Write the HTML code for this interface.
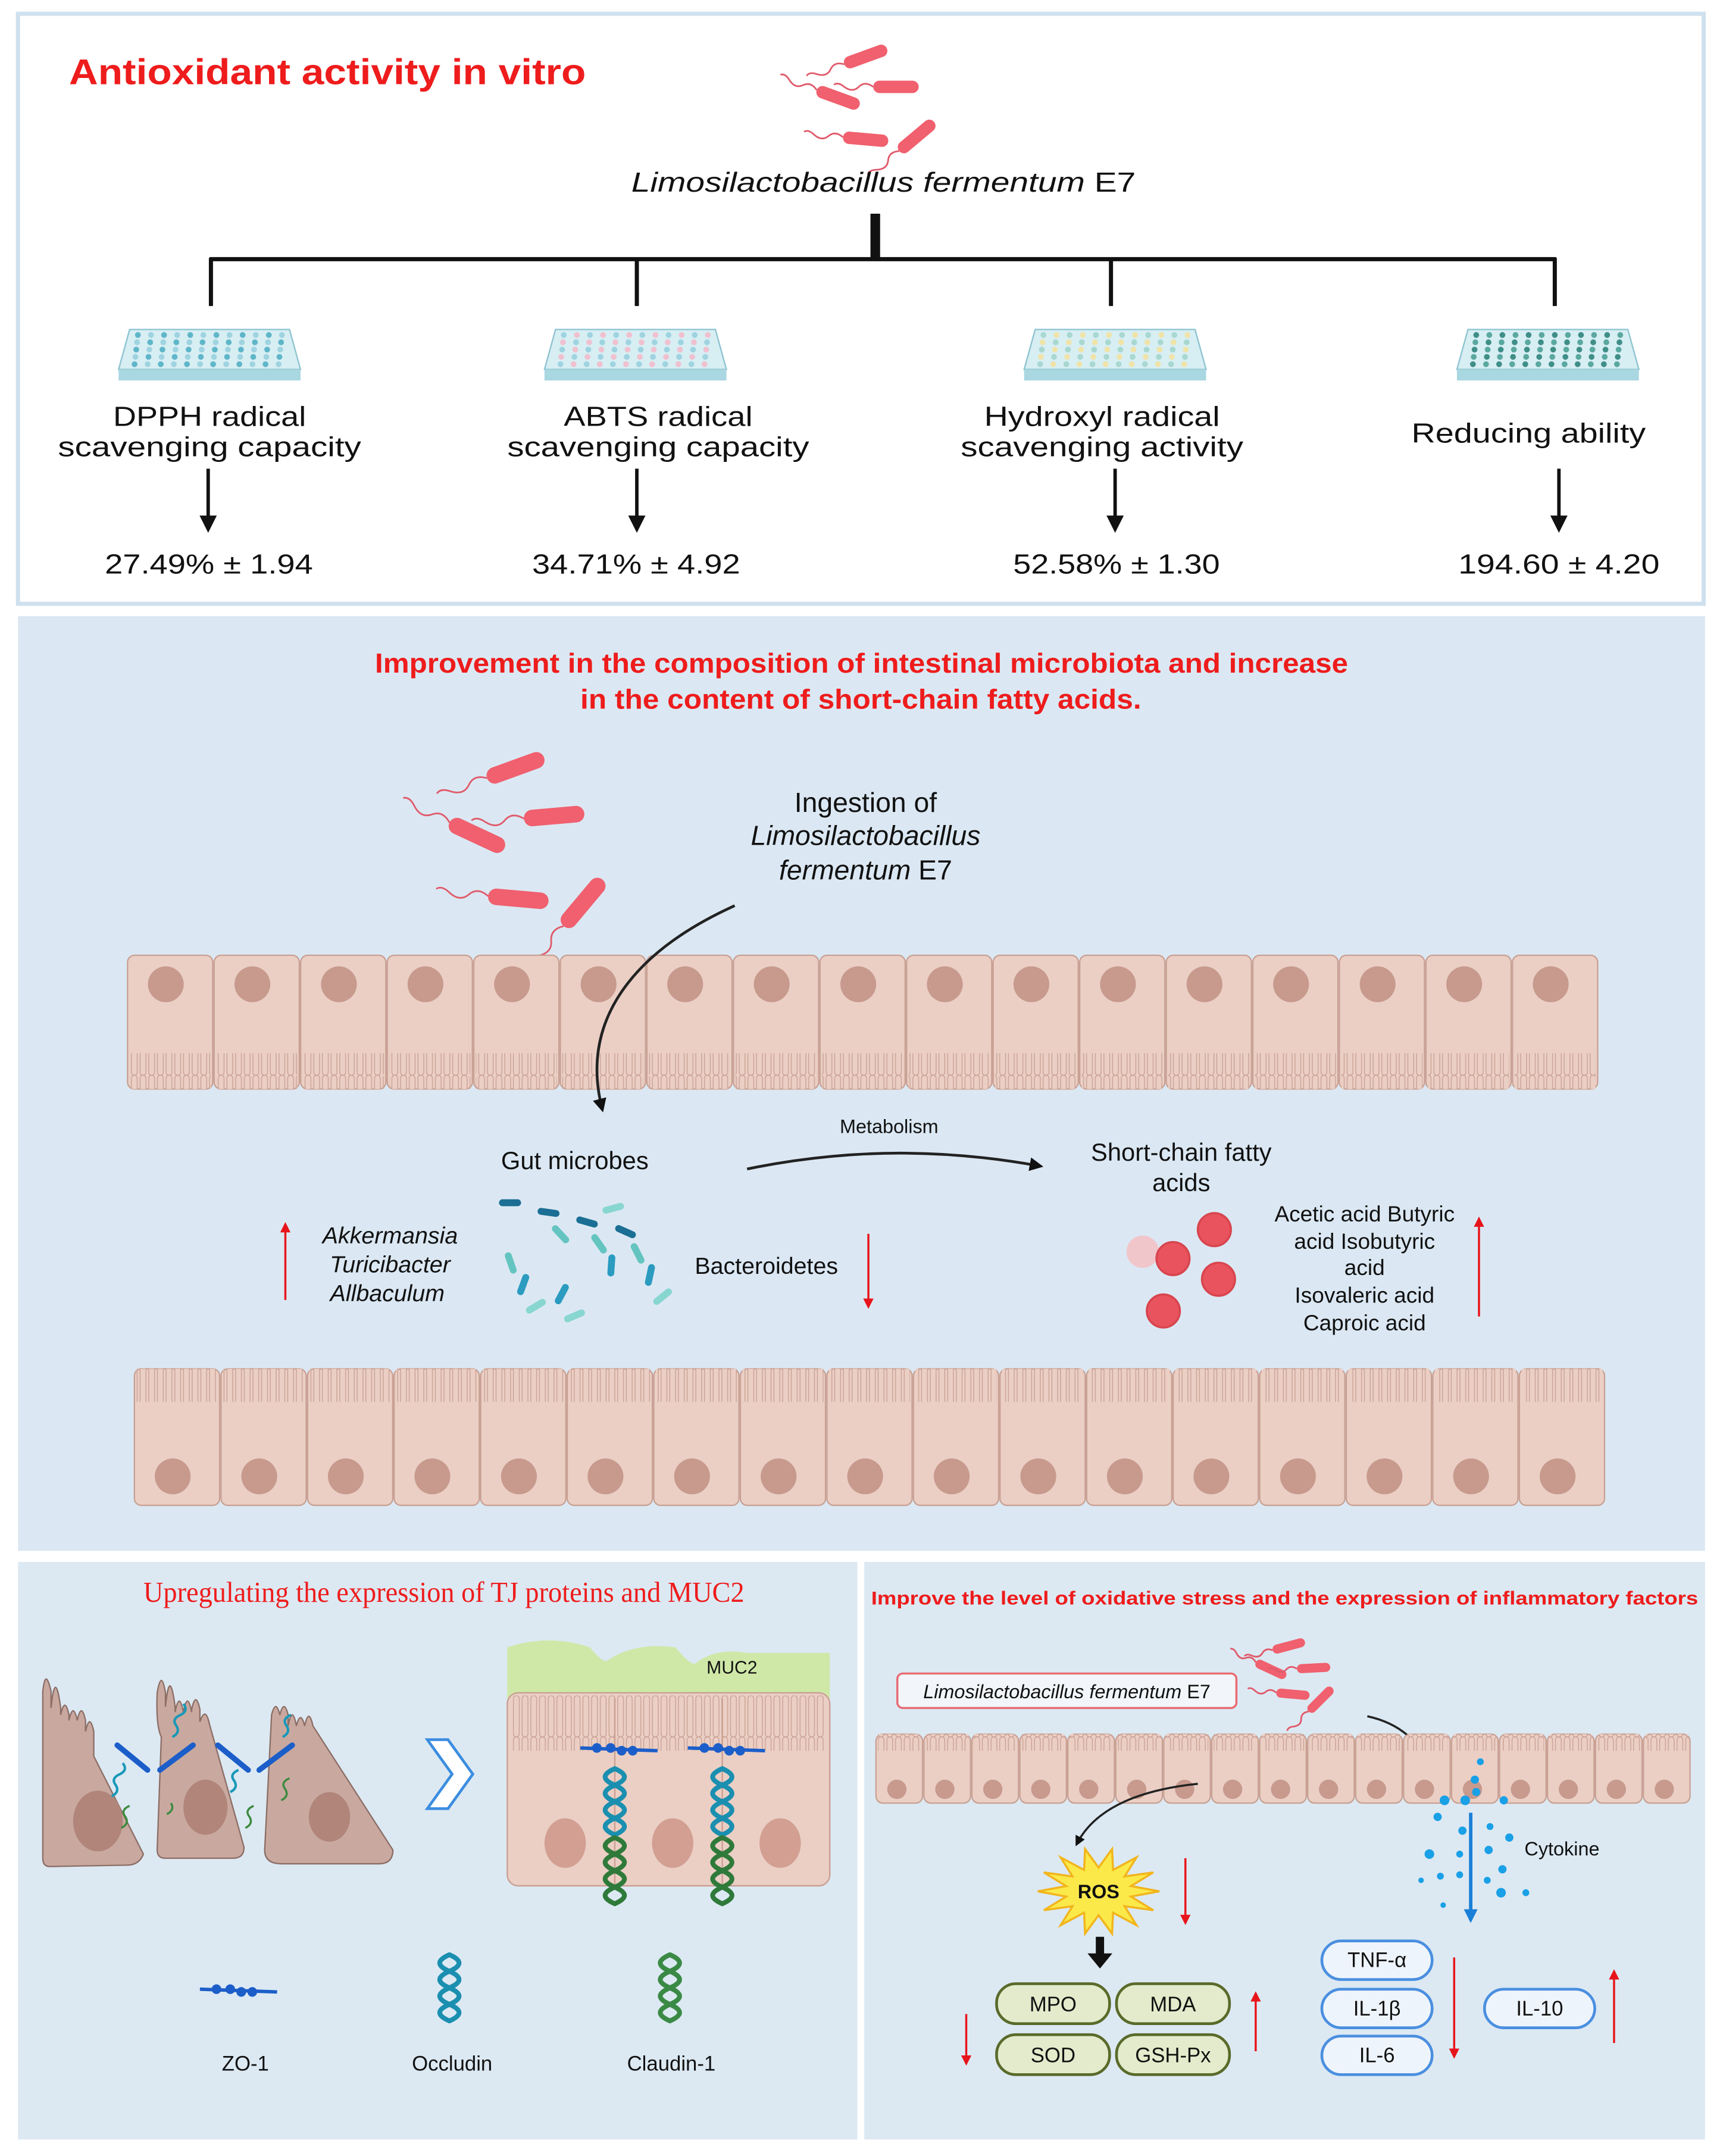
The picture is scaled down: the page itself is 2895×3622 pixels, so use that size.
<!DOCTYPE html>
<html><head><meta charset="utf-8"><style>
html,body{margin:0;padding:0;background:#fff;}
svg{display:block;}
text{font-family:"Liberation Sans",sans-serif;}
</style></head><body>
<svg id="s" xmlns="http://www.w3.org/2000/svg" width="2895" height="3622" viewBox="0 0 1250 1564">
<defs>
<marker id="ab" viewBox="0 0 10 10" refX="8" refY="5" markerWidth="5" markerHeight="5" orient="auto"><path d="M0,0L10,5L0,10z" fill="#111"/></marker>
<marker id="ar" viewBox="0 0 10 10" refX="8" refY="5" markerWidth="5" markerHeight="5" orient="auto"><path d="M0,0L10,5L0,10z" fill="#e8141b"/></marker>
<marker id="abl" viewBox="0 0 10 10" refX="8" refY="5" markerWidth="4" markerHeight="4" orient="auto"><path d="M0,0L10,5L0,10z" fill="#1a7fd6"/></marker>
<pattern id="mv" width="6.3" height="30" patternUnits="userSpaceOnUse"><rect x="0.8" y="0" width="4.2" height="30" rx="2.1" fill="#eccfc4" stroke="#c9a194" stroke-width="0.6"/></pattern>
</defs>
<rect width="1250" height="1564" fill="#fff"/>
<!-- Panel 1 -->
<rect x="13" y="10" width="1223" height="428" fill="#fff" stroke="#cfe0ee" stroke-width="3"/>
<text x="50" y="61" font-size="26" font-weight="bold" fill="#ee1c1c" textLength="375" lengthAdjust="spacingAndGlyphs">Antioxidant activity in vitro</text>
<g id="bac1"></g>
<text x="458" y="139" font-size="20" fill="#111" textLength="366" lengthAdjust="spacingAndGlyphs"><tspan font-style="italic">Limosilactobacillus fermentum</tspan> E7</text>
<g stroke="#111" fill="none">
<line x1="635" y1="155" x2="635" y2="188" stroke-width="7"/>
<line x1="152" y1="188" x2="1129" y2="188" stroke-width="3"/>
<line x1="153" y1="187" x2="153" y2="222" stroke-width="3"/>
<line x1="462" y1="187" x2="462" y2="222" stroke-width="3"/>
<line x1="806" y1="187" x2="806" y2="222" stroke-width="3"/>
<line x1="1128" y1="187" x2="1128" y2="222" stroke-width="3"/>
</g>
<g id="plates"></g>
<g font-size="20" fill="#111" lengthAdjust="spacingAndGlyphs">
<text x="82" y="309" textLength="140" lengthAdjust="spacingAndGlyphs">DPPH radical</text><text x="42" y="331" textLength="220" lengthAdjust="spacingAndGlyphs">scavenging capacity</text>
<text x="409" y="309" textLength="137" lengthAdjust="spacingAndGlyphs">ABTS radical</text><text x="368" y="331" textLength="219" lengthAdjust="spacingAndGlyphs">scavenging capacity</text>
<text x="714" y="309" textLength="171" lengthAdjust="spacingAndGlyphs">Hydroxyl radical</text><text x="697" y="331" textLength="205" lengthAdjust="spacingAndGlyphs">scavenging activity</text>
<text x="1024" y="321" textLength="170" lengthAdjust="spacingAndGlyphs">Reducing ability</text>
<text x="76" y="416" textLength="151" lengthAdjust="spacingAndGlyphs">27.49% ± 1.94</text>
<text x="386" y="416" textLength="151" lengthAdjust="spacingAndGlyphs">34.71% ± 4.92</text>
<text x="735" y="416" textLength="150" lengthAdjust="spacingAndGlyphs">52.58% ± 1.30</text>
<text x="1058" y="416" textLength="146" lengthAdjust="spacingAndGlyphs">194.60 ± 4.20</text>
</g>
<g stroke="#111" stroke-width="2.5" marker-end="url(#ab)">
<line x1="151" y1="340" x2="151" y2="384"/><line x1="462" y1="340" x2="462" y2="384"/>
<line x1="809" y1="340" x2="809" y2="384"/><line x1="1131" y1="340" x2="1131" y2="384"/>
</g>
<!-- Panel 2 -->
<rect x="13" y="447" width="1224" height="678" fill="#dbe8f3"/>
<g font-size="20" font-weight="bold" fill="#ee1c1c">
<text x="272" y="488" textLength="706" lengthAdjust="spacingAndGlyphs">Improvement in the composition of intestinal microbiota and increase</text>
<text x="421" y="514" textLength="407" lengthAdjust="spacingAndGlyphs">in the content of short-chain fatty acids.</text></g>
<g id="bac2"></g>
<g font-size="20" text-anchor="middle" fill="#111">
<text x="628" y="589">Ingestion of</text>
<text x="628" y="613" font-style="italic">Limosilactobacillus</text>
<text x="628" y="638"><tspan font-style="italic">fermentum</tspan> E7</text></g>
<g id="row1"></g><g id="row2"></g>
<path d="M533,657 C460,690 420,740 437,805" stroke="#222" stroke-width="2" fill="none" marker-end="url(#ab)"/>
<text x="417" y="848" font-size="18" text-anchor="middle" fill="#111">Gut microbes</text>
<text x="645" y="822" font-size="14" text-anchor="middle" fill="#111">Metabolism</text>
<path d="M542,848 C620,832 690,834 755,846" stroke="#222" stroke-width="2" fill="none" marker-end="url(#ab)"/>
<text x="857" y="842" font-size="18" text-anchor="middle" fill="#111">Short-chain fatty</text>
<text x="857" y="864" font-size="18" text-anchor="middle" fill="#111">acids</text>
<g font-size="17" font-style="italic" text-anchor="middle" fill="#111">
<text x="283" y="902">Akkermansia</text><text x="283" y="923">Turicibacter</text><text x="281" y="944">Allbaculum</text></g>
<line x1="207" y1="943" x2="207" y2="888" stroke="#e8141b" stroke-width="1.5" marker-end="url(#ar)"/>
<text x="556" y="924" font-size="17" text-anchor="middle" fill="#111">Bacteroidetes</text>
<line x1="630" y1="895" x2="630" y2="948" stroke="#e8141b" stroke-width="1.5" marker-end="url(#ar)"/>
<g id="mic"></g>
<g stroke="#d8454e" stroke-width="1.5">
<circle cx="829" cy="908" r="11" fill="#f1c6cb" stroke="#f1c6cb"/>
<circle cx="851" cy="913" r="12" fill="#e8535d"/>
<circle cx="881" cy="892" r="12" fill="#e8535d"/>
<circle cx="884" cy="928" r="12" fill="#e8535d"/>
<circle cx="844" cy="951" r="12" fill="#e8535d"/></g>
<g font-size="16" text-anchor="middle" fill="#111">
<text x="990" y="886">Acetic acid  Butyric</text><text x="990" y="906">acid  Isobutyric</text>
<text x="990" y="925">acid</text><text x="990" y="945">Isovaleric acid</text><text x="990" y="965">Caproic acid</text></g>
<line x1="1073" y1="955" x2="1073" y2="884" stroke="#e8141b" stroke-width="1.5" marker-end="url(#ar)"/>
<!-- Panel 3 left -->
<rect x="13" y="1133" width="609" height="419" fill="#dce9f3"/>
<text x="104" y="1162" font-size="21" fill="#ee1c1c" textLength="436" lengthAdjust="spacingAndGlyphs" style="font-family:'Liberation Serif',serif">Upregulating the expression of TJ proteins and MUC2</text>
<g fill="#c9a99f" stroke="#8c6e66" stroke-width="1">
<path d="M31,1227 q2,-18 6,0 l0,12 q3,-30 7,0 l0,5 q3,-14 6,0 l0,4 q3,-14 6,0 q3,-14 6,0 l0,8 q3,-14 6,0 l0,18 L104,1345 q-3,8 -12,8 L36,1354 q-5,0 -5,-6 z"/>
<path d="M114,1228 q3,-18 6,0 l0,10 q3,-30 7,0 l0,4 q3,-16 6,0 q3,-16 6,0 l0,-2 q3,-14 6,0 l0,9 q4,-12 7,2 L177,1340 q0,8 -8,8 L120,1348 q-6,0 -6,-6 L117,1260 q-4,-8 -3,-32z"/>
<path d="M197,1244 q3,-12 6,0 q3,-12 6,0 l0,8 q3,-16 6,0 q3,-12 6,0 q3,-14 6,0 L285,1342 q0,10 -10,10 L204,1352 q-12,0 -12,-10 L197,1244z"/>
</g>
<g fill="#b1857a"><ellipse cx="71" cy="1321" rx="18" ry="22"/><ellipse cx="149" cy="1311" rx="16" ry="20"/><ellipse cx="239" cy="1318" rx="15" ry="18"/></g>
<g stroke="#1c5ec9" stroke-width="4" stroke-linecap="round">
<line x1="85" y1="1266" x2="107" y2="1284"/><line x1="116" y1="1284" x2="140" y2="1266"/>
<line x1="158" y1="1266" x2="180" y2="1284"/><line x1="188" y1="1284" x2="212" y2="1266"/></g>
<g stroke="#1998b8" stroke-width="1.8" fill="none">
<path d="M81,1303 q6,-3 3,-8 q-4,-5 3,-8 q6,-3 2,-8"/><path d="M125,1260 q6,-3 3,-8 q-4,-5 3,-8 q6,-3 2,-8"/>
<path d="M167,1300 q6,-3 3,-8 q-4,-5 3,-8"/><path d="M205,1260 q6,-3 3,-8 q-4,-5 3,-8"/></g>
<g stroke="#3d8a3f" stroke-width="1.5" fill="none">
<path d="M88,1326 q6,-3 3,-8 q-4,-5 3,-8"/><path d="M121,1316 q6,-3 3,-8"/><path d="M178,1326 q6,-3 3,-8 q-4,-5 3,-8"/><path d="M204,1306 q6,-3 3,-8 q-4,-5 3,-8"/></g>
<path d="M310,1262 L325,1262 L343,1287 L325,1312 L310,1312 L328,1287z" fill="#fff" stroke="#3b8de0" stroke-width="2"/>
<path d="M368,1195 q30,-10 60,0 q8,10 12,10 q20,-14 50,-10 q10,12 14,12 q15,-12 38,-8 q20,0 60,0 L602,1232 L368,1232z" fill="#cfe8a8"/>
<rect x="368" y="1228" width="234" height="140" rx="8" fill="#ebcfc5" stroke="#c99e91"/>
<rect x="372" y="1230" width="226" height="40" fill="url(#mv)"/>
<line x1="446" y1="1232" x2="446" y2="1368" stroke="#c99e91"/><line x1="524" y1="1232" x2="524" y2="1368" stroke="#c99e91"/>
<text x="531" y="1214" font-size="13" text-anchor="middle" fill="#111">MUC2</text>
<g fill="#d29f92"><ellipse cx="410" cy="1337" rx="15" ry="18"/><ellipse cx="488" cy="1337" rx="15" ry="18"/><ellipse cx="566" cy="1337" rx="15" ry="18"/></g>
<g id="tj"></g>
<g font-size="15" text-anchor="middle" fill="#111"><text x="178" y="1502">ZO-1</text><text x="328" y="1502">Occludin</text><text x="487" y="1502">Claudin-1</text></g>
<!-- Panel 3 right -->
<rect x="627" y="1133" width="610" height="419" fill="#dce9f3"/>
<text x="632" y="1164" font-size="13.5" font-weight="bold" fill="#ee1c1c" textLength="600" lengthAdjust="spacingAndGlyphs">Improve the level of oxidative stress and the expression of inflammatory factors</text>
<rect x="651" y="1214" width="246" height="25" rx="4" fill="#f2f6fa" stroke="#e86b73" stroke-width="1.5"/>
<text x="774" y="1232" font-size="14" text-anchor="middle" fill="#111"><tspan font-style="italic">Limosilactobacillus fermentum</tspan> E7</text>
<g id="bac3"></g>
<path d="M992,1245 C1015,1250 1030,1262 1043,1290" stroke="#222" stroke-width="1.5" fill="none" marker-end="url(#ab)"/>
<g id="row3"></g>
<path d="M869,1294 C830,1298 795,1310 781,1338" stroke="#222" stroke-width="1.5" fill="none" marker-end="url(#ab)"/>
<g id="cyt"></g>
<line x1="1067" y1="1315" x2="1067" y2="1393" stroke="#1a7fd6" stroke-width="2.5" marker-end="url(#abl)"/>
<text x="1106" y="1346" font-size="14" fill="#111">Cytokine</text>
<polygon id="ros" fill="#fbe94a" stroke="#f2b51c" stroke-width="1.5"/>
<text x="797" y="1377" font-size="14" font-weight="bold" text-anchor="middle" fill="#111">ROS</text>
<line x1="860" y1="1348" x2="860" y2="1395" stroke="#e8141b" stroke-width="1.5" marker-end="url(#ar)"/>
<path d="M795,1405 h6 v12 h6 l-9,11 l-9,-11 h6z" fill="#111"/>
<g stroke="#5a6a2a" stroke-width="2" fill="#e3ebcc">
<rect x="723" y="1439" width="82" height="29" rx="14"/><rect x="810" y="1439" width="82" height="29" rx="14"/>
<rect x="723" y="1476" width="82" height="29" rx="14"/><rect x="810" y="1476" width="82" height="29" rx="14"/></g>
<g font-size="15" text-anchor="middle" fill="#111">
<text x="764" y="1459">MPO</text><text x="851" y="1459">MDA</text><text x="764" y="1496">SOD</text><text x="851" y="1496">GSH-Px</text></g>
<line x1="701" y1="1461" x2="701" y2="1497" stroke="#e8141b" stroke-width="1.5" marker-end="url(#ar)"/>
<line x1="911" y1="1488" x2="911" y2="1446" stroke="#e8141b" stroke-width="1.5" marker-end="url(#ar)"/>
<g stroke="#4a8fe0" stroke-width="2" fill="#eef4fb">
<rect x="959" y="1408" width="80" height="28" rx="14"/><rect x="959" y="1443" width="80" height="28" rx="14"/>
<rect x="959" y="1477" width="80" height="28" rx="14"/><rect x="1077" y="1443" width="80" height="28" rx="14"/></g>
<g font-size="15" text-anchor="middle" fill="#111">
<text x="999" y="1427">TNF-α</text><text x="999" y="1462">IL-1β</text><text x="999" y="1496">IL-6</text><text x="1117" y="1462">IL-10</text></g>
<line x1="1055" y1="1420" x2="1055" y2="1492" stroke="#e8141b" stroke-width="1.5" marker-end="url(#ar)"/>
<line x1="1171" y1="1482" x2="1171" y2="1430" stroke="#e8141b" stroke-width="1.5" marker-end="url(#ar)"/>
</svg>
<script>
var NS="http://www.w3.org/2000/svg";
function el(p,t,a){var e=document.createElementNS(NS,t);for(var k in a)e.setAttribute(k,a[k]);p.appendChild(e);return e;}
function $(i){return document.getElementById(i);}
function bac(g,x,y,ang,s){var gg=el(g,'g',{transform:'translate('+x+','+y+') rotate('+ang+') scale('+s+')'});
 el(gg,'path',{d:'M-22,0 q-8,-6 -14,0 q-6,6 -14,0 q-6,-5 -10,-2',fill:'none',stroke:'#e05a6a','stroke-width':1.2/s});
 el(gg,'rect',{x:-22,y:-6,width:44,height:12,rx:6,fill:'#f0606e'});}
[[628,41,-20],[608,71,20],[650,63,0],[628,101,5],[665,99,-40]].forEach(function(b){bac($('bac1'),b[0],b[1],b[2],0.75);});
[[374,557,-20],[346,606,25],[402,592,-5],[376,652,5],[423,655,-50]].forEach(function(b){bac($('bac2'),b[0],b[1],b[2],1);});
[[935,1194,-15],[922,1211,25],[953,1210,-3],[938,1229,5],[958,1233,-45]].forEach(function(b){bac($('bac3'),b[0],b[1],b[2],0.55);});
[[152,'#9fd3e0','#5fb6c9'],[461,'#f0c0cf','#9fd3e0'],[809,'#f0e3a8','#a8d8d0'],[1123,'#5aa8a0','#3f8f88']].forEach(function(p){
 var g=el($('plates'),'g',{});var x=p[0]-66;
 el(g,'path',{d:'M'+(x+8)+',239 L'+(x+124)+',239 L'+(x+132)+',268 L'+x+',268 z',fill:'#d7eef3',stroke:'#8cc3d0'});
 el(g,'rect',{x:x,y:268,width:132,height:8,fill:'#a9d7e2'});
 for(var r=0;r<5;r++)for(var c=0;c<12;c++)el(g,'circle',{cx:x+14+c*9.5+r*-0.6,cy:243+r*5.3,r:2.1,fill:(r+c)%2?p[1]:p[2]});});
function row(g,x0,y0,n,w,h,mvTop,nucY,nr,mvh){
 for(var i=0;i<n;i++){var x=x0+i*w;
  el(g,'rect',{x:x+0.5,y:y0,width:w-1,height:h,rx:5,fill:'#ebcfc5',stroke:'#c9a194','stroke-width':1});
  var my=mvTop?y0:y0+h-mvh;
  el(g,'rect',{x:x+2,y:my,width:w-4,height:mvh,fill:'url(#mv)'});
  el(g,'circle',{cx:x+w*0.45,cy:nucY,r:nr,fill:'#c79a8d'});}}
row($('row1'),92,693,17,62.8,97,false,714,13,26);
row($('row2'),97,993,17,62.8,99,true,1071,13,24);
row($('row3'),635,1258,17,34.8,50,true,1298,7,12);
var cols=['#1b6e94','#64c4c0','#2b9bc0','#88d6d0'];
for(var i=0;i<16;i++){var x=362+(i*37%120),y=870+(i*23%85);
 el($('mic'),'rect',{x:x,y:y,width:16,height:5,rx:2.5,fill:cols[i%4],transform:'rotate('+(i*47%180)+' '+(x+8)+' '+(y+2)+')'});}
function zo(g,x,y){el(g,'line',{x1:x,y1:y,x2:x+56,y2:y+2,stroke:'#1c5ec9','stroke-width':2.5});
 [12,22,30,38].forEach(function(d){el(g,'circle',{cx:x+d,cy:y+(d>25?2:0),r:3.5,fill:'#1c5ec9'});});}
function wig(g,x,y,col,n){var d='M'+x+','+y;for(var i=0;i<n;i++)d+=' q14,6 0,12 q-14,6 0,12';
 el(g,'path',{d:d,fill:'none',stroke:col,'stroke-width':3.5,'stroke-linecap':'round'});}
var tj=$('tj');
zo(tj,421,1268);zo(tj,499,1268);
[446,524].forEach(function(x){var g=el(tj,'g',{});wig(g,x,1283,'#1b8fb0',2);
 var m=el(tj,'g',{transform:'translate('+(2*x)+',0) scale(-1,1)'});wig(m,x,1283,'#1b8fb0',2);
 wig(g,x,1333,'#2f7a3a',1.5);var m2=el(tj,'g',{transform:'translate('+(2*x)+',0) scale(-1,1)'});wig(m2,x,1333,'#2f7a3a',1.5);});
zo(tj,145,1443);
var g1=el(tj,'g',{});wig(g1,326,1418,'#1b8fb0',2);var g2=el(tj,'g',{transform:'translate(652,0) scale(-1,1)'});wig(g2,326,1418,'#1b8fb0',2);
var g3=el(tj,'g',{});wig(g3,486,1418,'#3a8a45',2);var g4=el(tj,'g',{transform:'translate(972,0) scale(-1,1)'});wig(g4,486,1418,'#3a8a45',2);
[[1061,1328,3],[1074,1278,2.5],[1070,1291,3],[1071,1300,3],[1048,1306,3.5],[1063,1306,3.5],[1091,1306,3],[1043,1318,3],[1081,1325,2.5],[1095,1333,3],[1037,1345,3.5],[1059,1345,2.5],[1080,1342,3],[1090,1356,3],[1045,1361,2.5],[1059,1360,2.5],[1079,1364,2.5],[1031,1364,2],[1089,1373,3.5],[1107,1373,2.5],[1047,1382,2]].forEach(function(d){el($('cyt'),'circle',{cx:d[0],cy:d[1],r:d[2],fill:'#1aa0e6'});});
var pts=[];for(var i=0;i<28;i++){var a=i*Math.PI/14,r=i%2?23:42;pts.push((797+r*Math.cos(a)*1.05).toFixed(1)+','+(1372+r*Math.sin(a)*0.75).toFixed(1));}
$('ros').setAttribute('points',pts.join(' '));
</script>
</body></html>
